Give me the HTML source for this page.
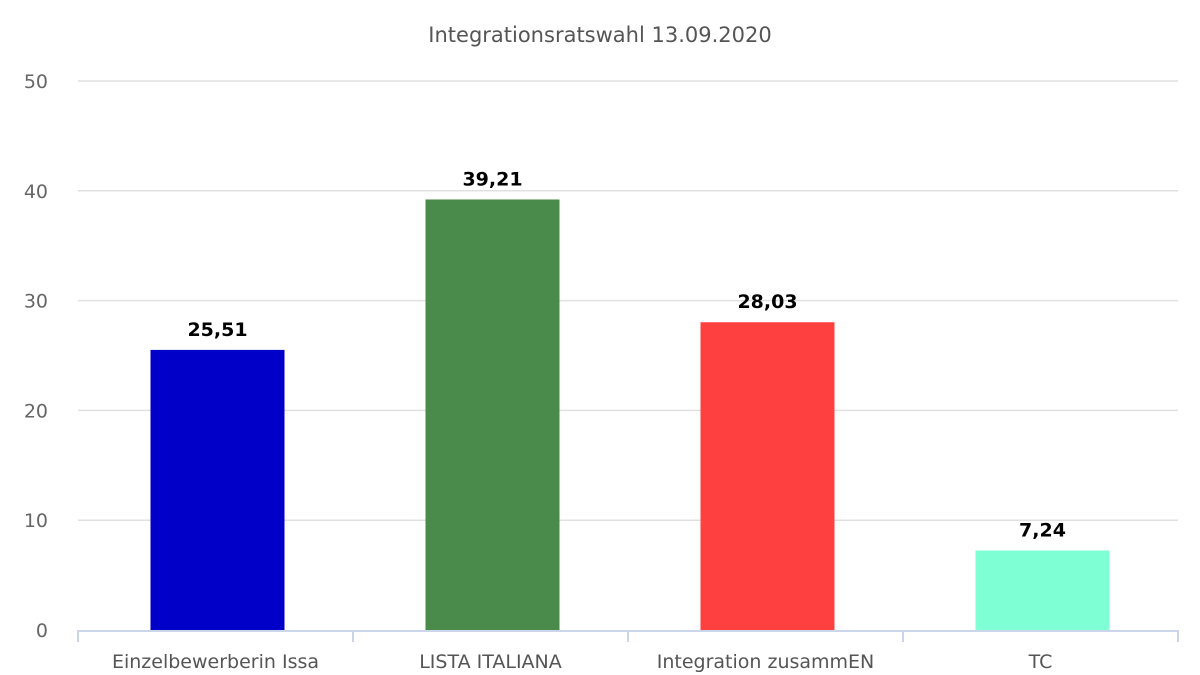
<!DOCTYPE html>
<html><head><meta charset="utf-8"><style>
body{margin:0;background:#fff;font-family:"DejaVu Sans","Liberation Sans",sans-serif;}
svg{display:block}
</style></head><body>
<svg id="chart" width="1200" height="675" font-family="DejaVu Sans, Liberation Sans, sans-serif">
<text x="600" y="42" text-anchor="middle" font-size="21" fill="#555">Integrationsratswahl 13.09.2020</text>
<g id="grid"></g><g id="bars"></g><g id="xaxis"></g>
</svg>
<script>
const categories=["Einzelbewerberin Issa","LISTA ITALIANA","Integration zusammEN","TC"];
const values=[25.51,39.21,28.03,7.24];
const labels=["25,51","39,21","28,03","7,24"];
const colors=["#0000c8","#4a8a4a","#ff4040","#7fffd4"];
const yTicks=[0,10,20,30,40,50];
const NS="http://www.w3.org/2000/svg";
const x0=78,x1=1178,y0=630,y50=81;
const y=v=>y0-(v/50)*(y0-y50);
const bw=(x1-x0)/categories.length;
const xc=i=>x0+bw*(i+0.5);
function mk(t,a,p){const e=document.createElementNS(NS,t);for(const k in a)e.setAttribute(k,a[k]);p.appendChild(e);return e;}
const g=document.getElementById('grid'),b=document.getElementById('bars'),xa=document.getElementById('xaxis');
yTicks.forEach(t=>{
 if(t>0){const l=mk('line',{x1:x0,x2:x1,y1:y(t),y2:y(t),stroke:'#e0e0e0','stroke-width':1.5},g);
 
 }
 const tx=mk('text',{x:48,y:y(t)+7,'text-anchor':'end','font-size':19,fill:'#666'},g);tx.textContent=t;
 
 
});
const ax=mk('line',{x1:x0,x2:x1,y1:y0+1,y2:y0+1,stroke:'#ccd6eb','stroke-width':2},xa);


for(let i=0;i<=categories.length;i++){const tk=mk('line',{x1:x0+bw*i,x2:x0+bw*i,y1:y0,y2:y0+12,stroke:'#ccd6eb','stroke-width':2},xa);
 
 }
categories.forEach((c,i)=>{
 const w=134;
 const r=mk('rect',{x:xc(i)-w/2+2,y:y(values[i]),width:w,height:y0-y(values[i]),fill:colors[i]},b);
 
 
 const v=mk('text',{x:xc(i)+2,y:y(values[i])-14,'text-anchor':'middle','font-size':19,'font-weight':'bold',fill:'#000'},b);v.textContent=labels[i];
 
 
 const t=mk('text',{x:xc(i),y:668,'text-anchor':'middle','font-size':19,fill:'#555'},xa);t.textContent=c;
 
 
});
</script>
</body></html>
